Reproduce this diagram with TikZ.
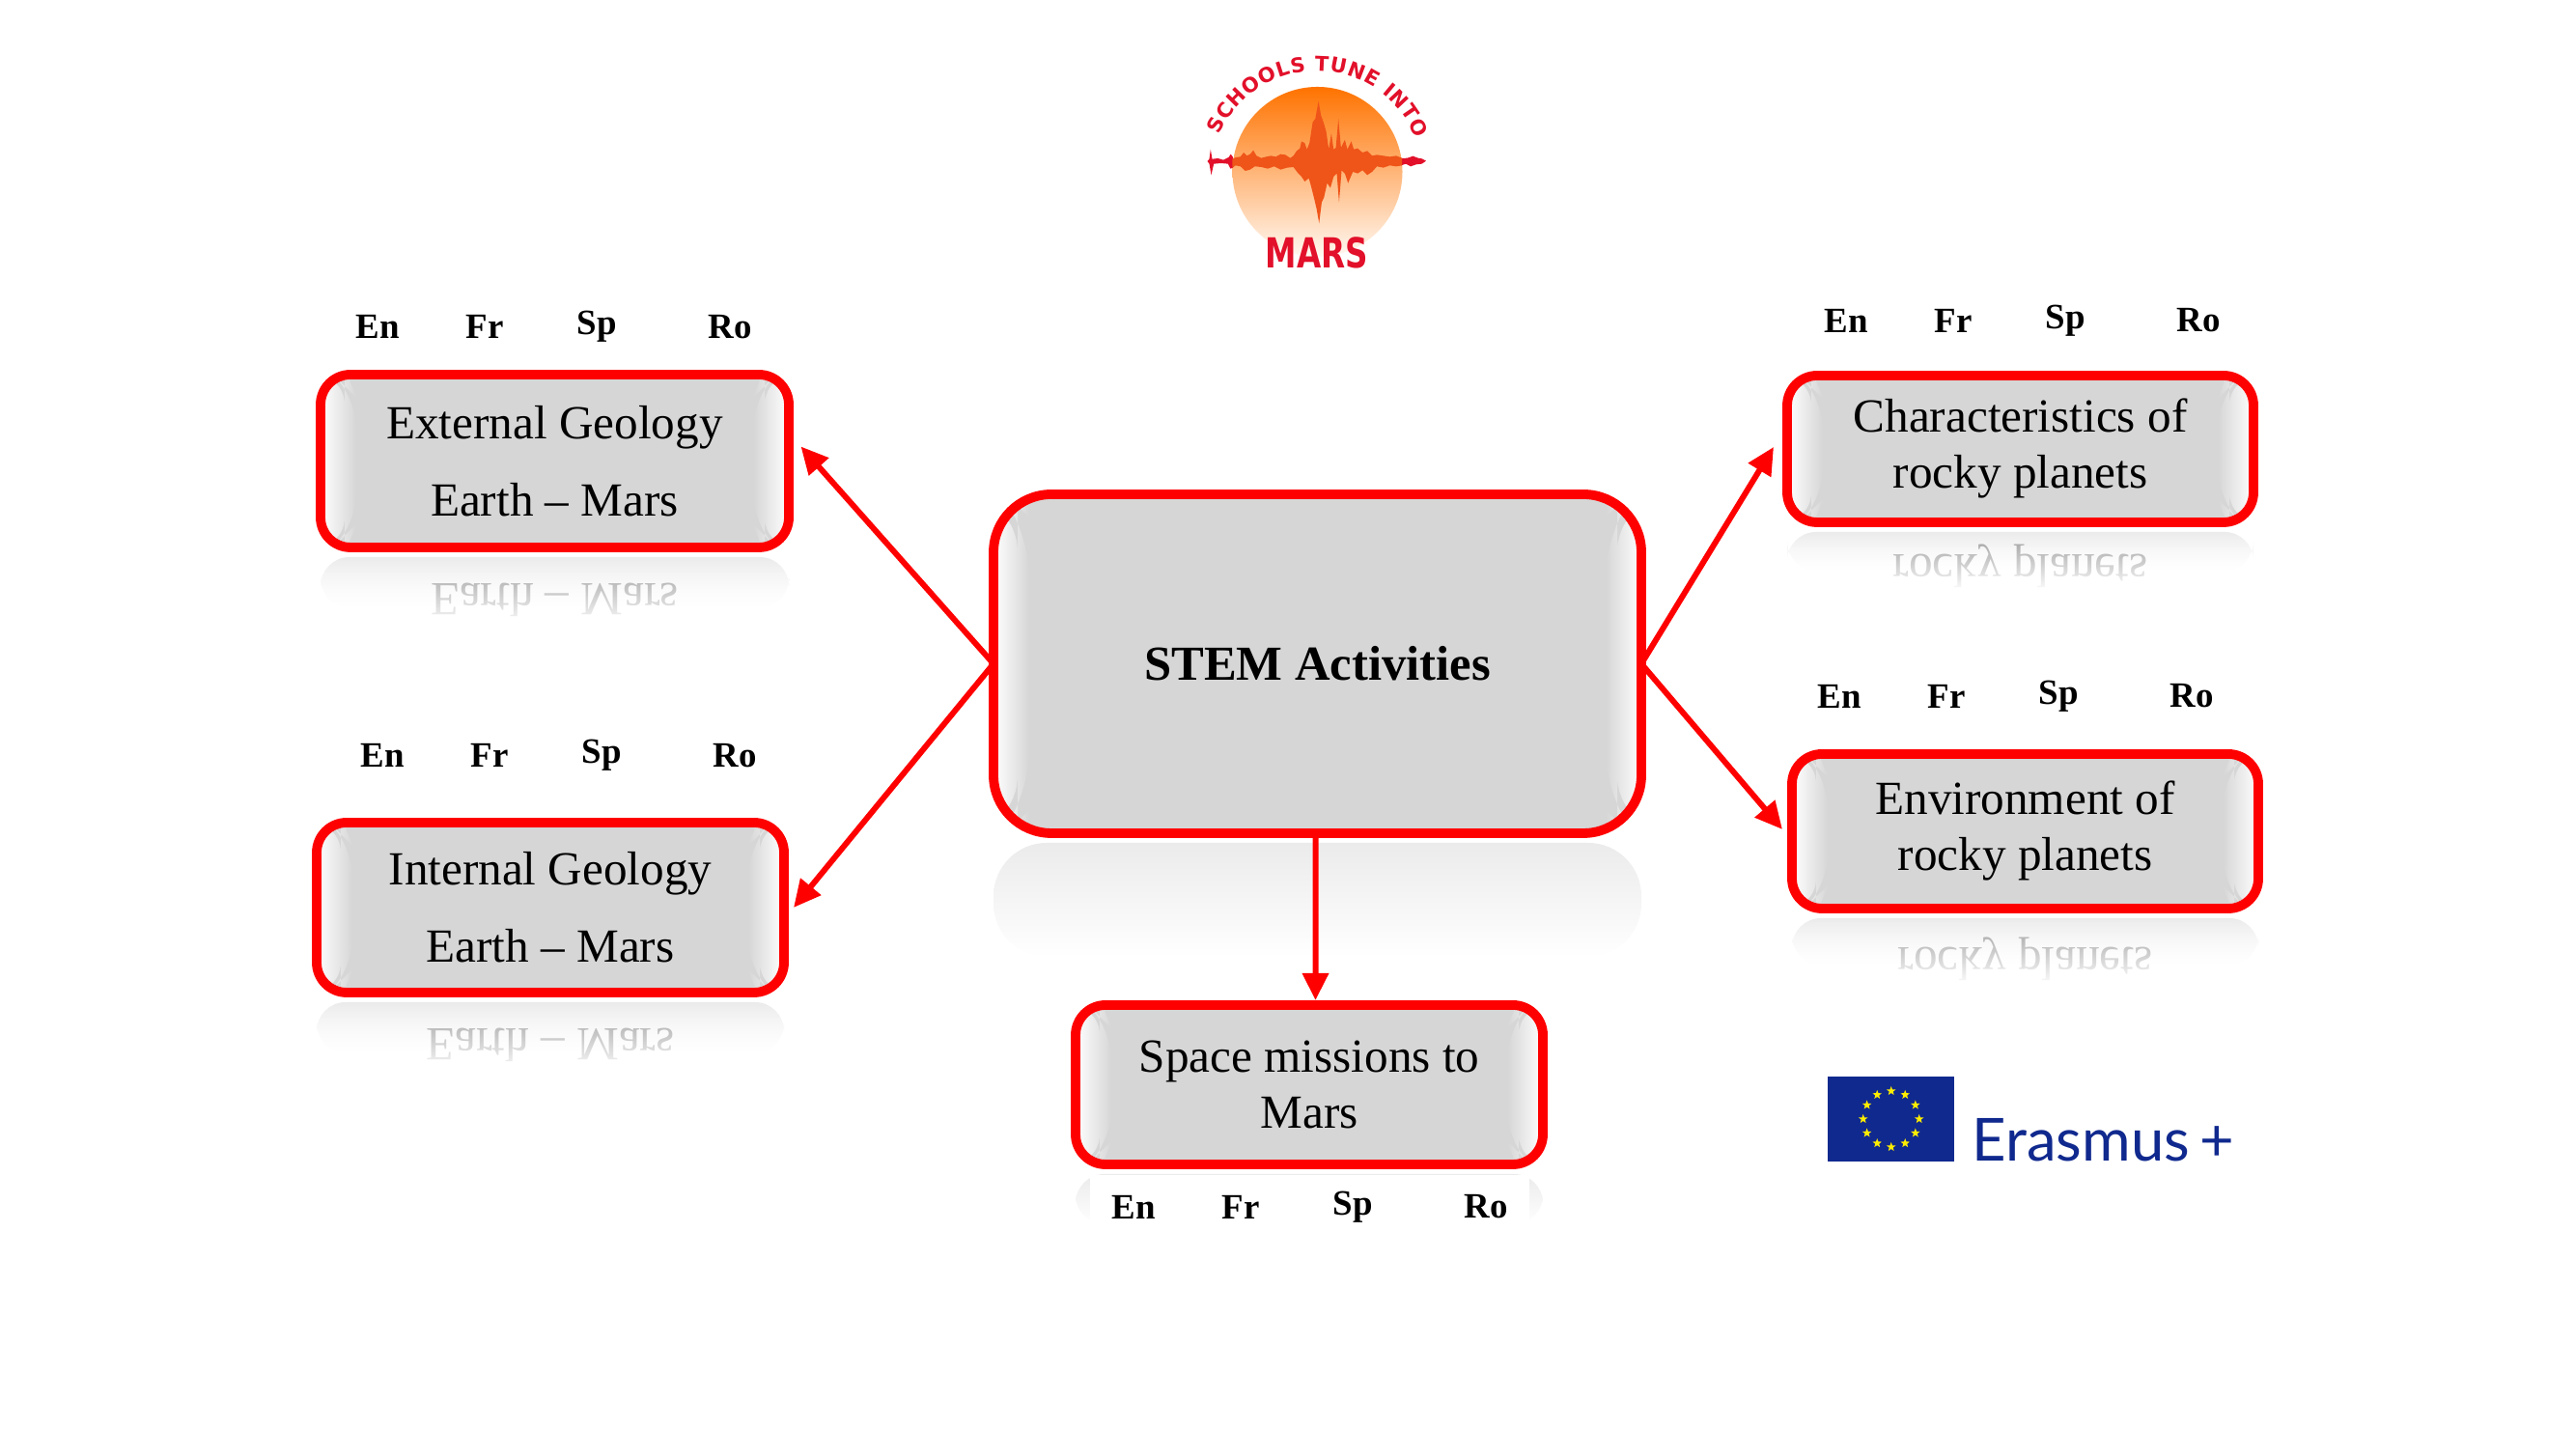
\documentclass[tikz,border=0pt]{standalone}
\usepackage{fontspec}
\usepackage{tikz}
\usetikzlibrary{arrows.meta, calc, fadings, shapes.geometric, decorations.text}

\setmainfont{Liberation Serif}
\newfontfamily\erasmusfont{Lato}
\newfontfamily\logofont{DejaVu Sans}
\newfontfamily\marsfont[FakeStretch=0.76]{DejaVu Sans}

\definecolor{boxgrey}{HTML}{D6D6D6}
\definecolor{echogrey}{HTML}{EBEBEB}
\definecolor{marsred}{HTML}{E2102A}
\definecolor{waveorange}{HTML}{EF5418}
\definecolor{euroblue}{HTML}{10298E}
\definecolor{euroyellow}{HTML}{FFED00}

\tikzset{
  topicbox/.style={draw=red, line width=2.8pt, fill=boxgrey, rounded corners=#1, outer sep=0pt,
    align=center, font=\fontsize{14}{16.5}\selectfont,
    path picture={
      \coordinate (sw) at (path picture bounding box.south west);
      \coordinate (nw) at (path picture bounding box.north west);
      \coordinate (se) at (path picture bounding box.south east);
      \coordinate (ne) at (path picture bounding box.north east);
      \shade[left color=white, right color=boxgrey] (sw) -- ($(sw)+(.25,0)$) -- ($(sw)+(.25,.12)$) -- ($(sw)+(.37,.24)$)
        -- ($(nw)+(.37,-.24)$) -- ($(nw)+(.25,-.12)$) -- ($(nw)+(.25,0)$) -- (nw) -- cycle;
      \shade[right color=white, left color=boxgrey] (se) -- ($(se)+(-.25,0)$) -- ($(se)+(-.25,.12)$) -- ($(se)+(-.37,.24)$)
        -- ($(ne)+(-.37,-.24)$) -- ($(ne)+(-.25,-.12)$) -- ($(ne)+(-.25,0)$) -- (ne) -- cycle;
    }},
  langlabel/.style={font=\fontsize{10.5}{12}\selectfont\bfseries, inner sep=0pt},
  flow/.style={draw=red, line width=1.7pt, -{Triangle[length=8pt,width=7.5pt]}},
  echotext/.style={yscale=-1, transform shape, anchor=base, text=black!40, inner sep=0pt, font=\fontsize{14}{16.5}\selectfont},
  eurostar/.style={star, star points=5, star point ratio=2.4, fill=euroyellow, minimum size=.1cm, inner sep=0pt}
}

% Reflection under a box: name, height, baseline distance, mirrored text
\newcommand{\boxecho}[4]{
  \shade[top color=echogrey, bottom color=white, rounded corners=.3cm]
    ($(#1.south west)+(0,-.1)$) rectangle ($(#1.south east)+(0,-#2)$);
  \node[echotext] (#1-echo) at ($(#1.south)+(0,-#3)$) {#4};
  \fill[white, path fading=north] ($(#1.south west)+(-.05,-.1)$) rectangle ($(#1.south east)+(.05,-#2-.22)$);
}

% Row of language labels, first label at the given point
\newcommand{\langrow}[3]{
  \foreach \lang/\dx in {En/0, Fr/1.11, Sp/2.27, Ro/3.65}
    \node[langlabel] (#1-\lang) at (#2+\dx,#3) {\lang};
}

\begin{document}
\begin{tikzpicture}
  \useasboundingbox (0,0) rectangle (26.67,15.08);

  % Boxes
  \node[topicbox=.6cm, minimum width=6.71cm, minimum height=3.51cm, font=\fontsize{14.4}{17}\selectfont\bfseries] (stem) at (13.645,8.205) {STEM Activities};
  \node[topicbox=.31cm, minimum width=4.85cm, minimum height=1.79cm] (external) at (5.745,10.305) {External Geology\\[6.3pt]Earth -- Mars};
  \node[topicbox=.31cm, minimum width=4.84cm, minimum height=1.76cm] (internal) at (5.70,5.68) {Internal Geology\\[6.3pt]Earth -- Mars};
  \node[topicbox=.31cm, minimum width=4.83cm, minimum height=1.52cm] (rockychar) at (20.925,10.43) {Characteristics of\\rocky planets};
  \node[topicbox=.31cm, minimum width=4.83cm, minimum height=1.60cm] (rockyenv) at (20.975,6.47) {Environment of\\rocky planets};
  \node[topicbox=.31cm, minimum width=4.84cm, minimum height=1.65cm] (space) at (13.56,3.845) {Space missions to\\Mars};

  % Reflections
  \shade[top color=echogrey, bottom color=white, rounded corners=.55cm]
    ($(stem.south west)+(0,-.1)$) rectangle ($(stem.south east)+(0,-1.28)$);
  \boxecho{external}{.62}{.38}{Earth -- Mars}
  \boxecho{internal}{.62}{.38}{Earth -- Mars}
  \boxecho{rockychar}{.5}{.34}{rocky planets}
  \boxecho{rockyenv}{.58}{.41}{rocky planets}
  \shade[top color=echogrey, bottom color=white, rounded corners=.3cm]
    ($(space.south west)+(0,-.1)$) rectangle ($(space.south east)+(0,-.62)$);
  \node[fill=white, inner sep=0pt, minimum width=4.55cm, minimum height=.62cm, anchor=north] (spacecover) at ($(space.south)+(0,-.1)$) {};

  % Language labels
  \langrow{ext}{3.91}{11.695}
  \langrow{int}{3.96}{7.255}
  \langrow{char}{19.12}{11.76}
  \langrow{env}{19.05}{7.87}
  \langrow{spc}{11.74}{2.58}

  % Connectors
  \draw[flow] (stem.west) -- ([shift={(.125,.15)}]external.east);
  \draw[flow] (stem.west) -- ([shift={(.1,0)}]internal.east);
  \draw[flow] (stem.east) -- ([shift={(-.14,.02)}]rockychar.west);
  \draw[flow] (stem.east) -- ([shift={(-.1,.02)}]rockyenv.west);
  \draw[flow] ([xshift=-.02cm]stem.south) -- ([xshift=.065cm,yshift=.05cm]space.north);

  % Mars logo
  \shade[top color=orange!90!red, middle color=orange!55!white, bottom color=orange!5!white] (13.645,13.30) circle (.88);
  \begin{scope}[shift={(11.8,14.78)}, x=.003333cm, y=-.003333cm]
    \fill[marsred] (212,412) -- (218,405) -- (222,375) -- (227,405) -- (245,403) -- (262,408) -- (278,400) -- (285,390) -- (292,400)
      -- (292,432) -- (284,435) -- (276,420) -- (255,418) -- (232,420) -- (224,455) -- (218,420) -- cycle;
    \fill[marsred] (815,403) -- (835,402) -- (852,396) -- (868,402) -- (880,404) -- (893,411) -- (880,420) -- (862,422) -- (845,428) -- (830,420) -- (815,425) -- cycle;
    \fill[waveorange] (290,405) -- (300,400) -- (315,398) -- (325,385) -- (335,395) -- (345,390) -- (355,378) -- (365,395) -- (380,402)
      -- (395,398) -- (410,395) -- (425,398) -- (440,390) -- (455,392) -- (470,402) -- (480,395) -- (490,380) -- (500,372) -- (505,350)
      -- (515,355) -- (522,375) -- (530,355) -- (540,290) -- (548,280) -- (558,225) -- (566,270) -- (575,295) -- (582,320) -- (590,375)
      -- (598,325) -- (605,375) -- (612,370) -- (620,280) -- (628,370) -- (640,345) -- (648,375) -- (660,350) -- (668,375) -- (680,372)
      -- (695,385) -- (710,380) -- (725,395) -- (740,392) -- (760,395) -- (780,398) -- (800,395) -- (818,402)
      -- (818,425) -- (800,428) -- (780,425) -- (760,432) -- (740,428) -- (725,445) -- (710,455) -- (695,440) -- (680,450) -- (665,445)
      -- (650,480) -- (640,450) -- (630,440) -- (622,540) -- (615,450) -- (605,460) -- (595,495) -- (585,480) -- (575,525) -- (568,540)
      -- (560,605) -- (552,560) -- (545,530) -- (535,490) -- (528,465) -- (515,475) -- (505,460) -- (495,450) -- (480,430) -- (460,432)
      -- (440,438) -- (420,428) -- (400,435) -- (380,430) -- (360,428) -- (345,438) -- (330,442) -- (315,428) -- (300,425) -- (290,432) -- cycle;
  \end{scope}
  \path[decorate, decoration={text along path, text align=fit to path,
      text={|\logofont\bfseries\fontsize{6}{6}\selectfont\color{marsred}|SCHOOLS TUNE INTO}}]
    (13.64,13.25) ++(157:1.097) arc[start angle=157, end angle=21, radius=1.097];
  \node[text=marsred, inner sep=0pt, font=\marsfont\bfseries\fontsize{12.2}{14}\selectfont] (marsname) at (13.64,12.46) {MARS};

  % Erasmus logo
  \fill[euroblue] (18.93,3.05) rectangle (20.24,3.93);
  \foreach \i in {1,...,12}
    \node[eurostar] (star-\i) at ($(19.587,3.49)+(\i*30:.29)$) {};
  \node[text=euroblue, anchor=base west, inner sep=0pt, font=\erasmusfont\fontsize{17.5}{20}\selectfont] (erasmus) at (20.42,3.05) {Erasmus\,+};
\end{tikzpicture}
\end{document}
